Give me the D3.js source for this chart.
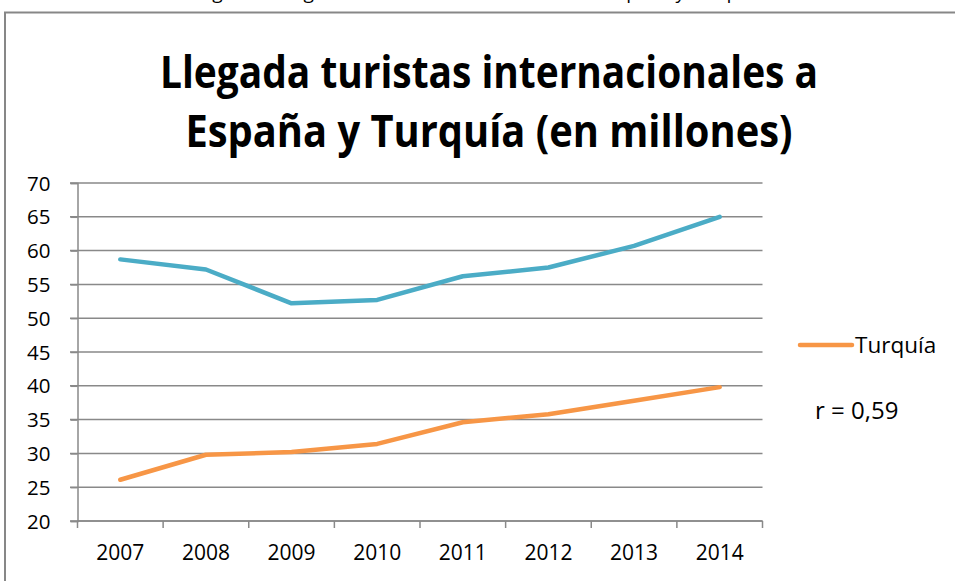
<!DOCTYPE html>
<html>
<head>
<meta charset="utf-8">
<script src="https://cdn.jsdelivr.net/npm/d3@7"></script>
<style>
  body { margin: 0; background: #fff; }
  svg { display: block; font-family: "Open Sans", sans-serif; }
</style>
</head>
<body>
<svg id="chart"></svg>
<script>
// data
const years = ["2007", "2008", "2009", "2010", "2011", "2012", "2013", "2014"];
const espana = [58.7, 57.2, 52.2, 52.7, 56.2, 57.5, 60.7, 65.0];
const turquia = [26.1, 29.8, 30.2, 31.4, 34.6, 35.8, 37.8, 39.8];
const yTicks = [20, 25, 30, 35, 40, 45, 50, 55, 60, 65, 70];
const titleLines = ["Llegada turistas internacionales a", "España y Turquía (en millones)"];

function draw_chart() {
    let width = 955;
    let height = 581;
    let grid_color = "#898989";

    const svg = d3.select("#chart")
        .attr("width", width)
        .attr("height", height);

    // caption above the frame, only its descenders show in the window
    svg.append("text")
        .attr("x", 478)
        .attr("y", -1)
        .attr("text-anchor", "middle")
        .attr("font-size", 19)
        .text("Figura 3. Llegada de turistas internacionales a España y Turquía");

    // chart frame
    svg.append("path")
        .attr("d", "M5,581 V12.5 H955")
        .attr("fill", "none")
        .attr("stroke", "#878787")
        .attr("stroke-width", 2);

    // title
    const title = svg.append("g").attr("font-weight", "bold").attr("font-size", 44);
    const title_widths = [658, 607];
    title.selectAll("text")
        .data(titleLines)
        .join("text")
        .attr("x", 489)
        .attr("y", (d, i) => 88 + i * 59)
        .attr("text-anchor", "middle")
        .attr("textLength", (d, i) => title_widths[i])
        .attr("lengthAdjust", "spacingAndGlyphs")
        .text(d => d);

    const x = d3.scaleBand().domain(years).range([77.5, 762.5]);
    const y = d3.scaleLinear().domain([20, 70]).range([521, 183]);

    // horizontal gridlines
    svg.append("g")
        .selectAll("line")
        .data(yTicks)
        .join("line")
        .attr("x1", 70)
        .attr("x2", 762.5)
        .attr("y1", d => y(d))
        .attr("y2", d => y(d))
        .attr("stroke", grid_color)
        .attr("stroke-width", 1.5);

    // y axis
    const y_axis = svg.append("g")
        .attr("transform", "translate(77.5,0)")
        .call(d3.axisLeft(y).tickValues(yTicks).tickSize(7).tickPadding(20));
    y_axis.select(".domain").attr("stroke", grid_color).attr("stroke-width", 1.5);
    y_axis.selectAll(".tick line").attr("stroke", grid_color).attr("stroke-width", 1.5);
    y_axis.selectAll(".tick text")
        .attr("font-size", 20.5)
        .attr("font-family", "Open Sans, sans-serif")
        .attr("fill", "#000")
        .attr("text-anchor", "end")
        .attr("dy", "0.35em");

    // x axis with ticks at band edges
    const x_axis = svg.append("g")
        .attr("transform", "translate(0,521)");
    x_axis.append("line")
        .attr("x1", 77.5).attr("x2", 762.5)
        .attr("stroke", grid_color).attr("stroke-width", 1.5);
    x_axis.selectAll("line.tick")
        .data(years.concat(["end"]))
        .join("line")
        .attr("class", "tick")
        .attr("x1", (d, i) => 77.5 + i * x.bandwidth())
        .attr("x2", (d, i) => 77.5 + i * x.bandwidth())
        .attr("y1", 0).attr("y2", 7)
        .attr("stroke", grid_color).attr("stroke-width", 1.5);
    x_axis.selectAll("text")
        .data(years)
        .join("text")
        .attr("x", d => x(d) + x.bandwidth() / 2)
        .attr("y", 39)
        .attr("text-anchor", "middle")
        .attr("font-size", 21)
        .text(d => d);

    // lines
    const line = d3.line()
        .x((d, i) => x(years[i]) + x.bandwidth() / 2)
        .y(d => y(d));

    svg.append("path")
        .datum(espana)
        .attr("d", line)
        .attr("fill", "none")
        .attr("stroke", "#4BACC6")
        .attr("stroke-width", 4.5)
        .attr("stroke-linecap", "round")
        .attr("stroke-linejoin", "round");

    svg.append("path")
        .datum(turquia)
        .attr("d", line)
        .attr("fill", "none")
        .attr("stroke", "#F79646")
        .attr("stroke-width", 4.5)
        .attr("stroke-linecap", "round")
        .attr("stroke-linejoin", "round");

    // legend
    svg.append("line")
        .attr("x1", 800).attr("x2", 852)
        .attr("y1", 345).attr("y2", 345)
        .attr("stroke", "#F79646")
        .attr("stroke-width", 4.5)
        .attr("stroke-linecap", "round");
    svg.append("text")
        .attr("x", 855)
        .attr("y", 353)
        .attr("font-size", 22.5)
        .text("Turquía");

    svg.append("text")
        .attr("x", 815)
        .attr("y", 419)
        .attr("font-size", 24)
        .text("r = 0,59");
}

draw_chart();
</script>
</body>
</html>
